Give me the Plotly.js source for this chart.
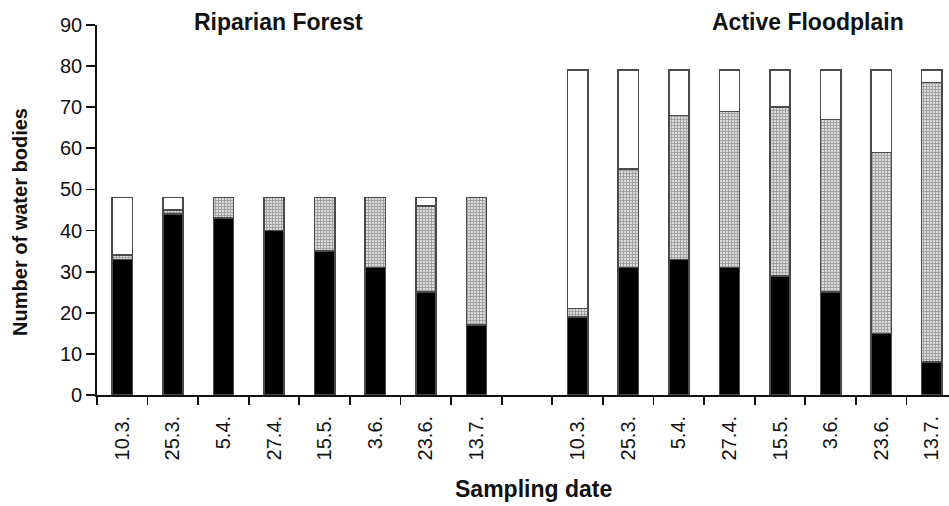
<!DOCTYPE html>
<html>
<head>
<meta charset="utf-8">
<script src="https://cdn.plot.ly/plotly-3.0.1.min.js"></script>
<style>html,body{margin:0;padding:0;background:#fff;}#chart{width:949px;height:506px;}</style>
</head>
<body>
<div id="chart"></div>
<script>
// Sampling dates (same for both habitats)
const dates = ["10.3.","25.3.","5.4.","27.4.","15.5.","3.6.","23.6.","13.7."];
const groupNames = ["Riparian Forest", "Active Floodplain"];
const xTitle = "Sampling date";
const yTitle = "Number of water bodies";

// Riparian Forest (total 48 water bodies)
const rfBlack   = [33, 44, 43, 40, 35, 31, 25, 17];
const rfHatched = [1, 1, 5, 8, 13, 17, 21, 31];
const rfWhite   = [14, 3, 0, 0, 0, 0, 2, 0];

// Active Floodplain (total 79 water bodies)
const afBlack   = [19, 31, 33, 31, 29, 25, 15, 8];
const afHatched = [2, 24, 35, 38, 41, 42, 44, 68];
const afWhite   = [58, 24, 11, 10, 9, 12, 20, 3];

// Category keys: 8 riparian dates, one empty gap slot, 8 floodplain dates
const rfKeys = dates.map((d, i) => "RF" + i);
const afKeys = dates.map((d, i) => "AF" + i);
const gapKey = "GAP";
const keys = rfKeys.concat([gapKey], afKeys);
// trailing non-breaking spaces push the rotated labels a little away from the axis
const tickText = dates.concat([""], dates).map(t => t ? t + "\u00a0\u00a0" : t);

function series(a, b) { return a.concat([null], b); }

const outline = {color: "#4a4a4a", width: 1.6};
const common = {type: "bar", x: keys, width: 0.4, hoverinfo: "y", showlegend: false};

const traces = [
  Object.assign({}, common, {
    name: "black", y: series(rfBlack, afBlack),
    marker: {color: "#000", line: outline}
  }),
  Object.assign({}, common, {
    name: "hatched", y: series(rfHatched, afHatched),
    marker: {color: "#fff", line: outline,
      pattern: {shape: "+", size: 3, solidity: 0.7, fgcolor: "#454545", bgcolor: "#fff", fillmode: "overlay"}}
  }),
  Object.assign({}, common, {
    name: "white", y: series(rfWhite, afWhite),
    marker: {color: "#fff", line: outline}
  })
];

const titleFont = {family: "Liberation Sans, Arial, sans-serif", size: 23, color: "#111"};

const layout = {
  width: 949, height: 506,
  margin: {l: 97, r: 0, t: 25, b: 111},
  paper_bgcolor: "#fff", plot_bgcolor: "#fff",
  barmode: "stack",
  font: {family: "Liberation Sans, Arial, sans-serif", color: "#111", size: 20},
  xaxis: {
    type: "category",
    categoryorder: "array", categoryarray: keys,
    tickmode: "array", tickvals: keys, ticktext: tickText,
    tickson: "boundaries",
    ticks: "outside", ticklen: 8, tickwidth: 1.8, tickcolor: "#111",
    tickangle: -90,
    tickfont: {size: 20, color: "#111"},
    showline: true, linecolor: "#111", linewidth: 1.8,
    showgrid: false, zeroline: false,
    range: [-0.5, 16.34]
  },
  yaxis: {
    range: [0, 90], dtick: 10, tick0: 0,
    ticks: "outside", ticklen: 9, tickwidth: 1.8, tickcolor: "#111",
    tickfont: {size: 20, color: "#111"},
    showline: true, linecolor: "#111", linewidth: 1.8,
    showgrid: false, zeroline: false
  },
  annotations: [
    {xref: "paper", yref: "paper", x: 0.2125, y: 1.008, yanchor: "middle", xanchor: "center",
     showarrow: false, text: "<b>" + groupNames[0] + "</b>", font: titleFont},
    {xref: "paper", yref: "paper", x: 0.8345, y: 1.008, yanchor: "middle", xanchor: "center",
     showarrow: false, text: "<b>" + groupNames[1] + "</b>", font: titleFont},
    {xref: "paper", yref: "paper", x: 0.512, y: -0.254, yanchor: "middle", xanchor: "center",
     showarrow: false, text: "<b>" + xTitle + "</b>", font: titleFont},
    {xref: "paper", yref: "paper", x: -0.0905, y: 0.4676, yanchor: "middle", xanchor: "center",
     textangle: -90, showarrow: false, text: "<b>" + yTitle + "</b>",
     font: {family: "Liberation Sans, Arial, sans-serif", size: 20, color: "#111"}}
  ]
};

Plotly.newPlot("chart", traces, layout, {displayModeBar: false, staticPlot: true});
</script>
</body>
</html>
